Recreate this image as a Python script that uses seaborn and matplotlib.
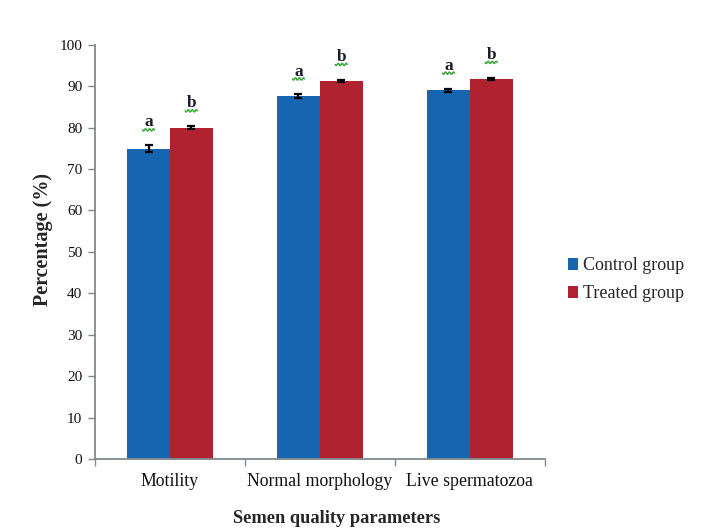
import numpy as np
import pandas as pd
import matplotlib
matplotlib.use("Agg")
import matplotlib.pyplot as plt
from matplotlib.transforms import IdentityTransform
import seaborn as sns

categories = ["Motility", "Normal morphology", "Live spermatozoa"]
groups = ["Control group", "Treated group"]
control_mean = [74.9, 87.6, 89.0]
treated_mean = [80.0, 91.3, 91.7]
control_err = [0.8, 0.4, 0.4]
treated_err = [0.3, 0.2, 0.3]
letters_control = ["a", "a", "a"]
letters_treated = ["b", "b", "b"]
yticks = [0, 10, 20, 30, 40, 50, 60, 70, 80, 90, 100]

colors = ["#1565b0", "#b0222f"]

sns.set_theme(style="white")
plt.rcParams["font.family"] = ["Liberation Serif", "DejaVu Serif"]

df = pd.DataFrame({
    "parameter": categories * 2,
    "group": [groups[0]] * 3 + [groups[1]] * 3,
    "value": control_mean + treated_mean,
    "err": control_err + treated_err,
    "letter": letters_control + letters_treated,
})

DPI = 100
fig = plt.figure(figsize=(7.03, 5.28), dpi=DPI)
ax = fig.add_axes([0.135, 0.1307, 0.64, 0.7846])

sns.barplot(data=df, x="parameter", y="value", hue="group", order=categories,
            hue_order=groups, palette=colors, width=0.57, errorbar=None,
            saturation=1, linewidth=0, ax=ax, legend=True)

ax.set_ylim(0, 100)
ax.set_xlim(-0.5, 2.5)

# error bars, significance letters and the green wavy underline
for container, g in zip(ax.containers, groups):
    sub = df[df["group"] == g].set_index("parameter").loc[categories]
    for patch, (_, row) in zip(container.patches, sub.iterrows()):
        xc = patch.get_x() + patch.get_width() / 2
        ax.errorbar(xc, row["value"], yerr=row["err"], color="black",
                    capsize=3, elinewidth=1.6, capthick=1.6, fmt="none")
        top = row["value"] + row["err"]
        ax.annotate(row["letter"], (xc, top), xytext=(0, 16.5),
                    textcoords="offset points", ha="center", va="center",
                    fontsize=12.5, fontweight="bold", color="#1c1c2c")
        px, py = ax.transData.transform((xc, top))
        wx = np.linspace(-6, 6, 49)
        wy = 1.1 * np.sin(wx * np.pi / 2)
        ax.plot(px + wx, py + 15.5 + wy, color="#3aa83a", lw=1.1,
                transform=IdentityTransform(), clip_on=False)

ax.set_yticks(yticks)
ax.set_yticklabels([str(t) for t in yticks], fontsize=11)
ax.set_xticks(range(len(categories)))
ax.set_xticklabels(categories, fontsize=12.8)
ax.set_xticks([-0.5, 0.5, 1.5, 2.5], minor=True)
ax.tick_params(axis="x", which="major", length=0, pad=10, colors="#111111")
ax.tick_params(axis="x", which="minor", length=5, width=1, color="#7f8a90",
               direction="out", bottom=True)
ax.tick_params(axis="y", length=5, width=1, color="#7f8a90", direction="out",
               left=True, pad=4, labelcolor="#111111")

for side in ["top", "right"]:
    ax.spines[side].set_visible(False)
for side in ["left", "bottom"]:
    ax.spines[side].set_color("#7f8a90")
    ax.spines[side].set_linewidth(1.3)

ax.set_ylabel("Percentage (%)", fontsize=14.5, fontweight="bold")
ax.yaxis.set_label_coords(-0.093, 0.53)
ax.set_xlabel("Semen quality parameters", fontsize=13.2, fontweight="bold",
              va="center")
ax.xaxis.set_label_coords(0.538, -0.143)

handles, labels = ax.get_legend_handles_labels()
ax.legend(handles, labels, loc="center left", bbox_to_anchor=(0.797, 0.47),
          bbox_transform=fig.transFigure, frameon=False, fontsize=13,
          handlelength=0.6, handleheight=0.6, handletextpad=0.25,
          labelspacing=0.6, borderaxespad=0)

fig.savefig("out.png", dpi=DPI, facecolor="white")
